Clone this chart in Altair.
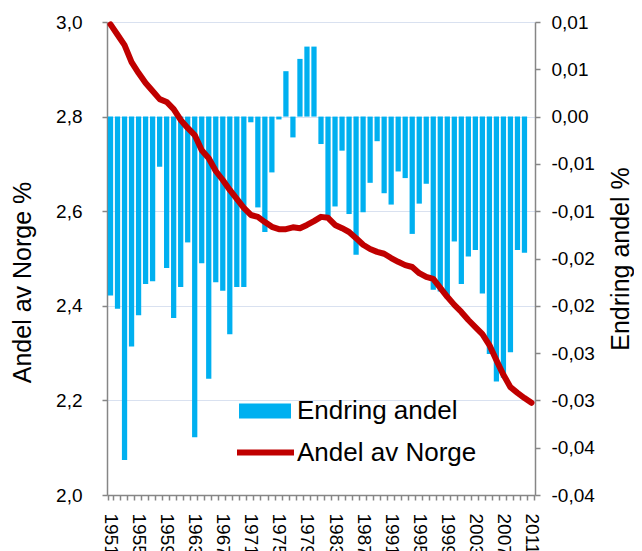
import altair as alt
import pandas as pd

years = list(range(1951, 2012))

andel = [2.995, 2.973, 2.951, 2.915, 2.892, 2.871, 2.854, 2.837, 2.831, 2.816,
         2.793, 2.776, 2.761, 2.729, 2.712, 2.685, 2.666, 2.645, 2.626, 2.607,
         2.592, 2.588, 2.577, 2.567, 2.562, 2.562, 2.566, 2.564, 2.571, 2.579,
         2.588, 2.586, 2.571, 2.564, 2.556, 2.543, 2.529, 2.520, 2.514, 2.510,
         2.501, 2.493, 2.486, 2.482, 2.469, 2.461, 2.457, 2.438, 2.419, 2.402,
         2.387, 2.370, 2.355, 2.340, 2.317, 2.285, 2.254, 2.228, 2.216, 2.205,
         2.195]

endring = [-0.0189, -0.0203, -0.0363, -0.0243, -0.0210, -0.0177, -0.0174, -0.0053, -0.0160, -0.0213,
           -0.0180, -0.0133, -0.0339, -0.0155, -0.0277, -0.0175, -0.0184, -0.0230, -0.0180, -0.0180,
           -0.0006, -0.0096, -0.0122, -0.0059, -0.0003, 0.0048, -0.0022, 0.0061, 0.0074, 0.0074,
           -0.0029, -0.0108, -0.0095, -0.0036, -0.0103, -0.0146, -0.0101, -0.0070, -0.0026, -0.0081,
           -0.0093, -0.0058, -0.0065, -0.0124, -0.0092, -0.0071, -0.0183, -0.0185, -0.0189, -0.0132,
           -0.0177, -0.0148, -0.0141, -0.0187, -0.0251, -0.0280, -0.0276, -0.0249, -0.0141, -0.0144,
           None]

series_bar = "Endring andel"
series_line = "Andel av Norge"

left_ticks = [2.0, 2.2, 2.4, 2.6, 2.8, 3.0]
right_ticks = [0.01, 0.005, 0.0, -0.005, -0.01, -0.015, -0.02, -0.025, -0.03, -0.035, -0.04]
label_every = 4

df = pd.DataFrame({
    "year": years,
    "andel": andel,
    "endring": endring,
    "s_bar": [series_bar] * len(years),
    "s_line": [series_line] * len(years),
})

FONT = "Liberation Sans"
AXIS_GRAY = "#868686"
BLUE = "#00B0F0"
RED = "#C00000"

x_enc = alt.X(
    "year:O",
    scale=alt.Scale(paddingInner=0.25, paddingOuter=0.125),
    axis=alt.Axis(
        title=None,
        labelAngle=90,
        labelExpr=f"(datum.value - {years[0]}) % {label_every} == 0 ? datum.label : ''",
        tickBand="extent",
        labelFontSize=19,
        labelColor="black",
        labelFont=FONT,
        labelPadding=13,
        tickSize=5,
        tickColor=AXIS_GRAY,
        tickWidth=1.5,
        domainColor=AXIS_GRAY,
        domainWidth=1.5,
        grid=False,
    ),
)

bars = alt.Chart(df).mark_bar().encode(
    x=x_enc,
    y=alt.Y(
        "endring:Q",
        scale=alt.Scale(domain=[-0.04, 0.01], nice=False),
        axis=alt.Axis(
            orient="right",
            values=right_ticks,
            labelExpr="format(datum.value + (datum.value < 0 ? -1e-9 : 1e-9), '.2f')",
            title="Endring andel %",
            titleAngle=270,
            titleFontSize=25,
            titleFontWeight="normal",
            titleFont=FONT,
            titleColor="black",
            titlePadding=39,
            labelFontSize=19,
            labelColor="black",
            labelFont=FONT,
            labelPadding=11,
            tickSize=5,
            tickColor=AXIS_GRAY,
            tickWidth=1.5,
            domainColor=AXIS_GRAY,
            domainWidth=1.5,
            grid=False,
        ),
    ),
    fill=alt.Fill(
        "s_bar:N",
        scale=alt.Scale(domain=[series_bar], range=[BLUE]),
        legend=alt.Legend(
            title=None,
            orient="none",
            legendX=132,
            legendY=363,
            padding=0,
            symbolType="M-1,-0.29L1,-0.29L1,0.29L-1,0.29Z",
            symbolSize=2704,
            symbolStrokeWidth=0,
            labelFontSize=26,
            labelFont=FONT,
            labelColor="black",
            labelOffset=6,
            labelLimit=400,
        ),
    ),
)

line = alt.Chart(df).mark_line(strokeWidth=6, strokeCap="round", strokeJoin="round").encode(
    x=x_enc,
    y=alt.Y(
        "andel:Q",
        scale=alt.Scale(domain=[2.0, 3.0], nice=False, zero=False),
        axis=alt.Axis(
            orient="left",
            values=left_ticks,
            format=".1f",
            title="Andel av Norge %",
            titleAngle=270,
            titleY=260,
            titleFontSize=25,
            titleFontWeight="normal",
            titleFont=FONT,
            titleColor="black",
            titlePadding=20,
            labelFontSize=19,
            labelColor="black",
            labelFont=FONT,
            labelPadding=20,
            tickSize=5,
            tickColor=AXIS_GRAY,
            tickWidth=1.5,
            domainColor=AXIS_GRAY,
            domainWidth=1.5,
            grid=True,
            gridColor="#D9E1F0",
            gridWidth=1.2,
        ),
    ),
    stroke=alt.Stroke(
        "s_line:N",
        scale=alt.Scale(domain=[series_line], range=[RED]),
        legend=alt.Legend(
            title=None,
            orient="none",
            legendX=127,
            legendY=399,
            padding=0,
            symbolType="stroke",
            symbolSize=3249,
            symbolStrokeWidth=6,
            labelFontSize=26,
            labelFont=FONT,
            labelColor="black",
            labelOffset=0,
            labelLimit=400,
        ),
    ),
)

chart = (
    alt.layer(bars, line)
    .resolve_scale(y="independent", fill="independent", stroke="independent")
    .properties(
        width=428,
        height=473,
        padding={"left": 99, "top": 14, "right": 99, "bottom": 60},
        autosize=alt.AutoSizeParams(type="none"),
    )
    .configure(
        font=FONT,
        locale={"number": {"decimal": ",", "thousands": "\u00a0", "grouping": [3],
                           "currency": ["", " kr"], "minus": "-"}},
    )
    .configure_view(strokeWidth=0)
)

chart.save("out.html", embed_options={"renderer": "svg", "actions": False})
